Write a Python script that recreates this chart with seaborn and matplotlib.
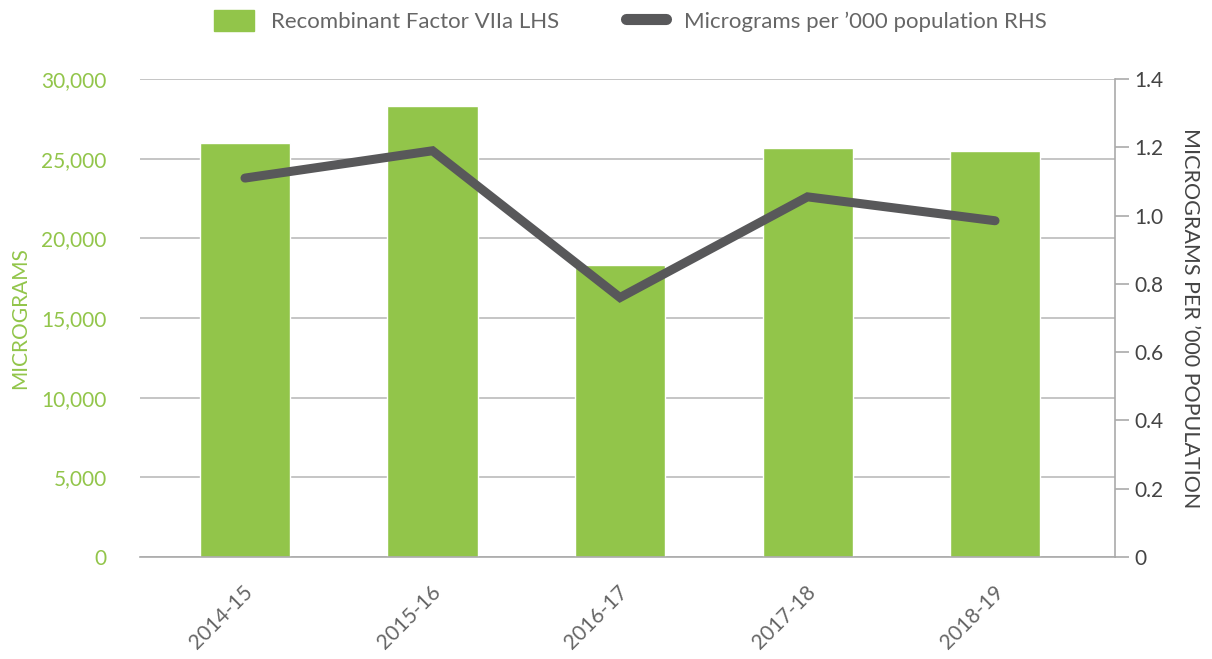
import matplotlib
matplotlib.use('Agg')
import matplotlib.pyplot as plt
import matplotlib.transforms as mtrans
import pandas as pd
import seaborn as sns
from matplotlib.patches import Patch
from matplotlib.lines import Line2D

years=['2014-15','2015-16','2016-17','2017-18','2018-19']
micrograms=[26000,28300,18300,25700,25500]
per_pop=[1.11,1.19,0.76,1.055,0.985]

green='#92c54a'
dark='#58585a'
grey='#666666'

df=pd.DataFrame({'Year':years,'Micrograms':micrograms,'PerPop':per_pop})

sns.set_style("white")
plt.rcParams['font.family']=['Lato','DejaVu Sans']

fig=plt.figure(figsize=(12.12,6.59),dpi=100)
ax=fig.add_axes([0.1155,0.1548,0.8045,0.7252])
ax2=ax.twinx()

sns.barplot(data=df,x='Year',y='Micrograms',color=green,width=0.48,saturation=1,ax=ax,zorder=2)
sns.lineplot(data=df,x='Year',y='PerPop',color=dark,lw=6.5,ax=ax2,solid_capstyle='round',solid_joinstyle='miter',sort=False)

ax.set_xlim(-0.56,4.64)
ax.set_ylim(0,30000)
ax.set_yticks(range(0,30001,5000))
ax.set_yticklabels([f'{v:,}' for v in range(0,30001,5000)])
ax.yaxis.grid(True,color='#bbbbbb',lw=1.2,zorder=0)
ax.set_axisbelow(True)
ax.tick_params(axis='y',colors=green,labelsize=15,length=0,pad=24)
ax.tick_params(axis='x',colors=grey,labelsize=15,length=0,pad=23)
for t in ax.get_xticklabels():
    t.set_rotation(45)
    t.set_ha('right')
    t.set_va('center')
    t.set_rotation_mode('anchor')
    t.set_transform(t.get_transform()+mtrans.ScaledTranslation(5/100,0,fig.dpi_scale_trans))
ax.set_xlabel('')
ax.set_ylabel('MICROGRAMS',color=green,fontsize=15,labelpad=8)

ax2.set_ylim(0,1.4)
ax2.set_yticks([0,0.2,0.4,0.6,0.8,1.0,1.2,1.4])
ax2.set_yticklabels(['0','0.2','0.4','0.6','0.8','1.0','1.2','1.4'])
ax2.tick_params(axis='y',colors='#aaaaaa',labelcolor='#444444',labelsize=15,length=10,width=1.2,direction='out',pad=4)
ax2.set_ylabel('MICROGRAMS PER \u2019000 POPULATION',color='#444444',fontsize=15.5,rotation=270,labelpad=26)
ax2.set_xlabel('')

for a in (ax,ax2):
    for s in ['top','left']:
        a.spines[s].set_visible(False)
ax.spines['right'].set_visible(False)
ax2.spines['bottom'].set_visible(False)
ax2.spines['right'].set_color('#aaaaaa')
ax2.spines['right'].set_linewidth(1.2)
ax.spines['bottom'].set_color('#aaaaaa')
ax.spines['bottom'].set_linewidth(1.2)

handles=[Patch(facecolor=green,edgecolor=green),
         Line2D([0],[0],color=dark,lw=8,solid_capstyle='round')]
fig.legend(handles,['Recombinant Factor VIIa LHS','Micrograms per \u2019000 population RHS'],
           loc='upper center',bbox_to_anchor=(0.52,1.015),ncol=2,frameon=False,
           fontsize=16,labelcolor=grey,handlelength=1.8,handleheight=1.1,
           handletextpad=0.8,columnspacing=3.0)

fig.savefig('out.png',dpi=100)
